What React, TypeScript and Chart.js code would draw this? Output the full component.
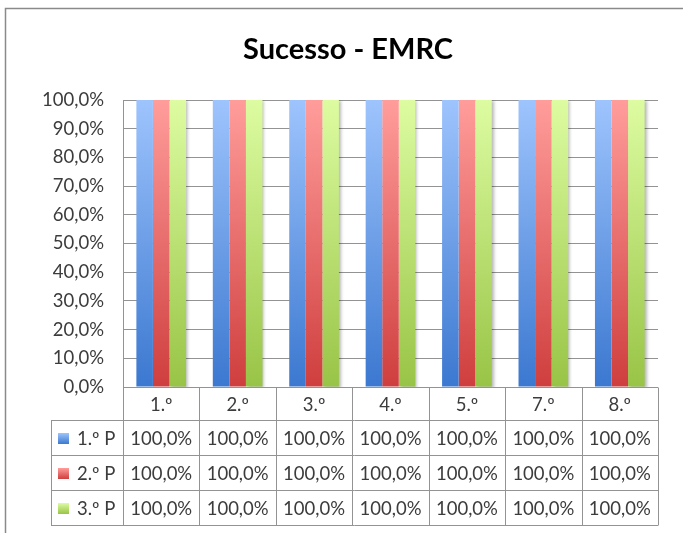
import React, { useEffect, useRef } from "react";
import { Chart, registerables } from "chart.js";

Chart.register(...registerables);

const title = "Sucesso - EMRC";
const categories = ["1.º", "2.º", "3.º", "4.º", "5.º", "7.º", "8.º"];
const seriesNames = ["1.º P", "2.º P", "3.º P"];
const p1 = [100, 100, 100, 100, 100, 100, 100];
const p2 = [100, 100, 100, 100, 100, 100, 100];
const p3 = [100, 100, 100, 100, 100, 100, 100];
const seriesValues = [p1, p2, p3];
const gradients: [string, string][] = [
  ["#9ec4fd", "#3b78d0"],
  ["#ff9d9b", "#cf3e3e"],
  ["#ddfca1", "#98c446"],
];

const FONT = "Lato, 'Liberation Sans', sans-serif";
const TEXT = "#3c3c3c";
const LINE = "#939393";

const fmt = (v: number) => v.toFixed(1).replace(".", ",") + "%";

function grad(ctx: CanvasRenderingContext2D, top: number, bottom: number, i: number) {
  const g = ctx.createLinearGradient(0, top, 0, bottom);
  g.addColorStop(0, gradients[i][0]);
  g.addColorStop(1, gradients[i][1]);
  return g;
}

const framePlugin = {
  id: "frame",
  beforeDatasetDraw(chart: any, args: any) {
    if (args.index === 2) {
      const ctx = chart.ctx;
      ctx.save();
      ctx.shadowColor = "rgba(0,0,0,0.28)";
      ctx.shadowOffsetX = 2;
      ctx.shadowOffsetY = 1;
      ctx.shadowBlur = 3;
    }
  },
  afterDatasetDraw(chart: any, args: any) {
    if (args.index === 2) chart.ctx.restore();
  },
  afterDraw(chart: any) {
    const ctx: CanvasRenderingContext2D = chart.ctx;
    const { left, right, bottom } = chart.chartArea;
    const xs = chart.scales.x;
    const n = categories.length;
    const colW = (right - left) / n;
    ctx.save();
    // outer frame
    ctx.strokeStyle = "#8a8a8a";
    ctx.lineWidth = 1.5;
    ctx.beginPath();
    ctx.moveTo(5.5, chart.height);
    ctx.lineTo(5.5, 8.5);
    ctx.lineTo(chart.width, 8.5);
    ctx.stroke();

    // title
    ctx.fillStyle = "#000";
    ctx.font = `bold 29px ${FONT}`;
    ctx.textAlign = "center";
    ctx.textBaseline = "alphabetic";
    ctx.fillText(title, 348, 59);

    // table
    const catH = 33;
    const rowH = 35;
    const legLeft = 51;
    const y0 = Math.round(bottom) + 0.5;
    const y1 = y0 + catH;
    const yEnd = y1 + rowH * seriesNames.length;
    ctx.strokeStyle = LINE;
    ctx.lineWidth = 1;
    ctx.beginPath();
    ctx.moveTo(left, y0);
    ctx.lineTo(right, y0);
    for (let r = 0; r <= seriesNames.length; r++) {
      const y = y1 + r * rowH;
      ctx.moveTo(legLeft, y);
      ctx.lineTo(right, y);
    }
    ctx.moveTo(legLeft + 0.5, y1);
    ctx.lineTo(legLeft + 0.5, yEnd);
    for (let i = 0; i <= n; i++) {
      const x = Math.round(left + i * colW) + 0.5;
      ctx.moveTo(x, y0);
      ctx.lineTo(x, yEnd);
    }
    ctx.stroke();

    ctx.font = `18.5px ${FONT}`;
    ctx.fillStyle = TEXT;
    ctx.textBaseline = "middle";
    ctx.textAlign = "center";
    for (let i = 0; i < n; i++) {
      const cx = xs.getPixelForValue(i);
      ctx.fillText(categories[i], cx, y0 + catH / 2 + 1);
      for (let r = 0; r < seriesNames.length; r++) {
        ctx.fillText(fmt(seriesValues[r][i]), cx, y1 + r * rowH + rowH / 2 + 1);
      }
    }
    ctx.textAlign = "left";
    for (let r = 0; r < seriesNames.length; r++) {
      const cy = y1 + r * rowH + rowH / 2;
      ctx.fillStyle = grad(ctx, cy - 5, cy + 6, r);
      ctx.fillRect(58, cy - 5, 11, 11);
      ctx.fillStyle = TEXT;
      ctx.fillText(seriesNames[r], 77, cy + 1);
    }
    ctx.restore();
  },
};

export default function App() {
  const ref = useRef<HTMLCanvasElement>(null);
  useEffect(() => {
    if (!ref.current) return;
    const chart = new Chart(ref.current, {
      type: "bar",
      data: {
        labels: categories,
        datasets: seriesNames.map((name, i) => ({
          label: name,
          data: seriesValues[i],
          backgroundColor: (c: any) => {
            const ca = c.chart.chartArea;
            if (!ca) return gradients[i][1];
            return grad(c.chart.ctx, ca.top, ca.bottom, i);
          },
          borderWidth: 0,
          categoryPercentage: 0.65,
          barPercentage: 1,
        })),
      },
      options: {
        responsive: false,
        animation: false,
        layout: { padding: { top: 100, right: 25, bottom: 146, left: 0 } },
        plugins: {
          legend: { display: false },
          title: { display: false },
          tooltip: { enabled: false },
        },
        scales: {
          x: { display: false },
          y: {
            min: 0,
            max: 100,
            afterFit: (s: any) => {
              s.width = 123;
            },
            ticks: {
              stepSize: 10,
              padding: 19,
              color: TEXT,
              font: { family: FONT, size: 18.5 },
              callback: (v: any) => fmt(Number(v)),
            },
            grid: { color: LINE, lineWidth: 1, drawTicks: false },
            border: { display: true, color: LINE, width: 1 },
          },
        },
      },
      plugins: [framePlugin],
    });
    return () => chart.destroy();
  }, []);
  return (
    <div style={{ position: "fixed", left: 0, top: 0, width: 683, height: 533, background: "#fff" }}>
      <canvas ref={ref} width={683} height={533} style={{ display: "block" }} />
    </div>
  );
}
